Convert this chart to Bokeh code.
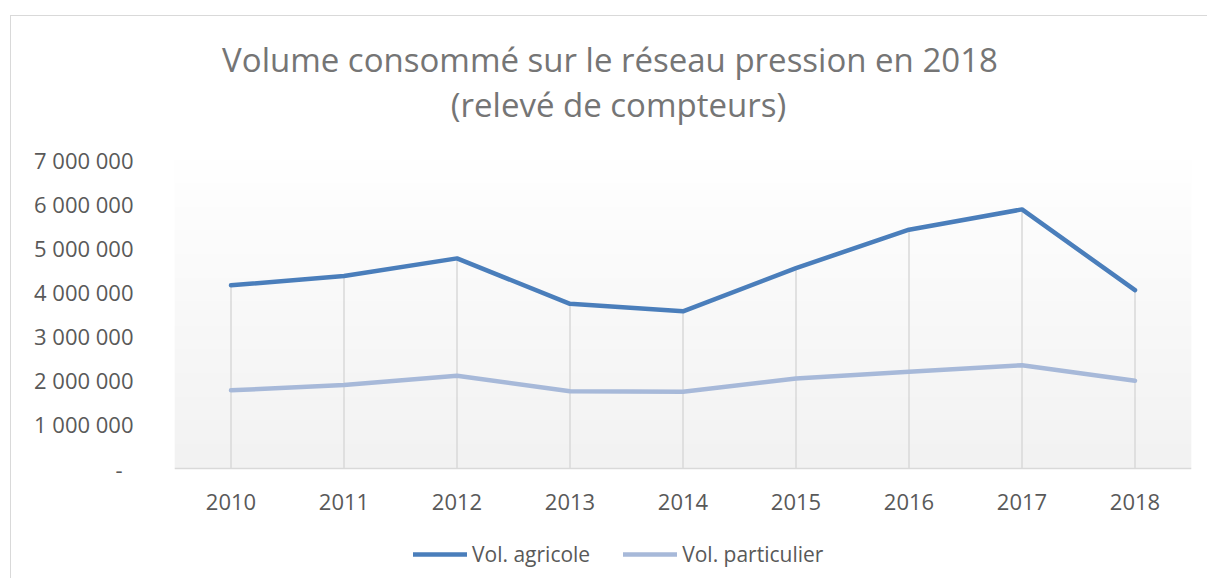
import numpy as np
from bokeh.plotting import figure
from bokeh.models import FactorRange, Range1d, FixedTicker, Legend, LegendItem, Label, Span
from bokeh.embed import file_html
from bokeh.resources import INLINE
from bokeh.core.properties import value

# ---------------- data ----------------
years = ["2010", "2011", "2012", "2013", "2014", "2015", "2016", "2017", "2018"]
vol_agricole = [4150000, 4360000, 4760000, 3730000, 3560000, 4540000, 5410000, 5870000, 4040000]
vol_particulier = [1770000, 1890000, 2100000, 1750000, 1740000, 2040000, 2190000, 2340000, 1990000]
series_names = ["Vol. agricole", "Vol. particulier"]
y_ticks = [0, 1000000, 2000000, 3000000, 4000000, 5000000, 6000000, 7000000]
y_tick_labels = ["-\u2002", "1 000 000", "2 000 000", "3 000 000", "4 000 000",
                 "5 000 000", "6 000 000", "7 000 000"]
title_lines = ["Volume consommé sur le réseau pression en 2018", "(relevé de compteurs)"]

# ---------------- style / layout ----------------
FONT = "Open Sans"
C_AGRI = "#4a7ebb"
C_PART = "#a7b9d9"
C_TEXT = "#595959"
C_TITLE = "#757575"
C_GRID = "#d9d9d9"

W, H = 1197, 563
LEFT, RIGHT = 163, 17
BAND_TOP, BAND_BOTTOM = 143, 452          # canvas px of the value band (max .. 0)
BAND_PX = BAND_BOTTOM - BAND_TOP
y_max = y_ticks[-1]
per_px = y_max / BAND_PX
y_top = y_max + BAND_TOP * per_px         # frame covers the whole canvas height
y_bot = -(H - BAND_BOTTOM) * per_px


def y_at(py):
    """data y for a canvas pixel row"""
    return (BAND_BOTTOM - py) * per_px


def x_at(page_px):
    """synthetic category coordinate for a page pixel column"""
    return (page_px - 174) / 113.0


p = figure(
    width=W, height=H,
    x_range=FactorRange(*years, range_padding=0),
    y_range=Range1d(y_bot, y_top),
    x_axis_location=None,
    output_backend="svg", toolbar_location=None,
    min_border_left=LEFT, min_border_right=RIGHT, min_border_top=0, min_border_bottom=0,
    outline_line_color=None, background_fill_color="white", border_fill_color="white",
)
p.styles = {"margin-left": "10px", "margin-top": "15px",
            "border-left": "1px solid #d9d9d9", "border-top": "1px solid #d9d9d9"}

# gradient plot-area background (white top -> light grey bottom)
n = 256
levels = np.linspace(242, 255, n).astype(np.uint32)  # row 0 = bottom
img = np.zeros((n, 2), dtype=np.uint32)
view = img.view(dtype=np.uint8).reshape((n, 2, 4))
view[:, :, 0] = levels[:, None]
view[:, :, 1] = levels[:, None]
view[:, :, 2] = levels[:, None]
view[:, :, 3] = 255
p.image_rgba(image=[img], x=0, y=0, dw=len(years), dh=y_max)

p.xgrid.visible = False
p.ygrid.visible = False

# drop lines
p.segment(x0=years, y0=[0] * len(years), x1=years, y1=vol_agricole,
          line_color=C_GRID, line_width=1.5)

# category axis line and labels
p.add_layout(Span(location=0, dimension="width", line_color=C_GRID, line_width=1.5))
p.text(x=years, y=[0] * len(years), text=years, y_offset=33,
       text_align="center", text_baseline="middle",
       text_font=value(FONT), text_font_size="22px", text_color=C_TEXT)

r_agri = p.line(years, vol_agricole, line_color=C_AGRI, line_width=4.5,
                line_join="round", line_cap="round")
r_part = p.line(years, vol_particulier, line_color=C_PART, line_width=4.5,
                line_join="round", line_cap="round")

# value axis
p.yaxis.ticker = FixedTicker(ticks=y_ticks)
p.yaxis.major_label_overrides = {t: l for t, l in zip(y_ticks, y_tick_labels)}
p.yaxis.axis_line_color = None
p.yaxis.major_tick_line_color = None
p.yaxis.minor_tick_line_color = None
p.yaxis.major_tick_out = 0
p.yaxis.major_tick_in = 0
p.yaxis.major_label_standoff = 41
p.yaxis.major_label_text_font = FONT
p.yaxis.major_label_text_font_size = "22px"
p.yaxis.major_label_text_color = C_TEXT

# title (two centred lines)
for line, cx, base in zip(title_lines, [609.5, 618.0], [43, 88]):
    p.add_layout(Label(x=x_at(cx), y=y_at(base), text=line, text_align="center",
                       text_baseline="alphabetic", text_font=FONT,
                       text_font_size="33px", text_color=C_TITLE))

legend = Legend(
    items=[LegendItem(label=series_names[0], renderers=[r_agri]),
           LegendItem(label=series_names[1], renderers=[r_part])],
    orientation="horizontal", location=(239, H - (553 - 16) - 15),
    label_text_font=FONT, label_text_font_size="21px", label_text_color=C_TEXT,
    glyph_width=54, glyph_height=20, label_standoff=5, spacing=33,
    padding=0, margin=0, border_line_color=None, background_fill_alpha=0,
)
p.add_layout(legend, "center")

open("out.html", "w").write(file_html(p, INLINE))
